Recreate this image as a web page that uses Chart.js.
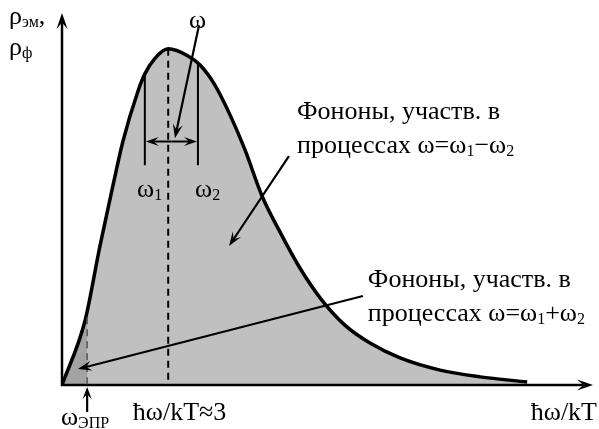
<!DOCTYPE html>
<html>
<head>
<meta charset="utf-8">
<script src="https://cdn.jsdelivr.net/npm/chart.js@4.4.1/dist/chart.umd.min.js"></script>
<style>
  html, body { margin: 0; padding: 0; background: #fff; overflow: hidden; }
  #wrap { width: 599px; height: 429px; }
  #warm { position: absolute; left: -2000px; top: 0; font-family: "Liberation Serif"; font-size: 24px; }
</style>
</head>
<body>
<span id="warm">ρω Фононы ħ≈ 12</span>
<div id="wrap"><canvas id="c" width="599" height="429"></canvas></div>
<script>
// Spectral density curve, x = ħω/kT
const energies = [0, 0.65, 1.07, 1.44, 1.72, 2.15, 2.34, 2.62, 3.0, 3.56, 3.90, 4.32, 4.75, 5.17, 5.65, 6.16, 6.72, 7.34, 7.99, 8.70, 9.55, 10.68, 11.81, 13.14];
const density  = [0, 0.19, 0.41, 0.59, 0.72, 0.87, 0.92, 0.965, 0.994, 0.973, 0.946, 0.887, 0.798, 0.695, 0.559, 0.452, 0.346, 0.251, 0.177, 0.124, 0.080, 0.044, 0.024, 0.009];

// Marked frequencies
const peakEnergy = 3.0;
const eprEnergy = 0.71;
const omega1 = 2.34;
const omega2 = 3.84;

const FONT = '"Liberation Serif", "Times New Roman", serif';
const SIZE = 26, SUB = 16;
const LIGHT = '#c0c0c0';
const DARK = '#a3a3a3';

function arrowHead(ctx, x1, y1, x2, y2, len, half) {
  const a = Math.atan2(y2 - y1, x2 - x1);
  const c = Math.cos(a), s = Math.sin(a);
  ctx.beginPath();
  ctx.moveTo(x2, y2);
  ctx.lineTo(x2 - c * len - s * half, y2 - s * len + c * half);
  ctx.lineTo(x2 - c * len * 0.6, y2 - s * len * 0.6);
  ctx.lineTo(x2 - c * len + s * half, y2 - s * len - c * half);
  ctx.closePath();
  ctx.fill();
}

function arrow(ctx, x1, y1, x2, y2, w, len, half) {
  const a = Math.atan2(y2 - y1, x2 - x1);
  ctx.lineWidth = w;
  ctx.beginPath();
  ctx.moveTo(x1, y1);
  ctx.lineTo(x2 - Math.cos(a) * len * 0.6, y2 - Math.sin(a) * len * 0.6);
  ctx.stroke();
  arrowHead(ctx, x1, y1, x2, y2, len, half);
}

// text with an optional subscript part
function subText(ctx, x, y, main, sub, tail) {
  ctx.font = SIZE + 'px ' + FONT;
  ctx.fillText(main, x, y);
  let cx = x + ctx.measureText(main).width;
  if (sub) {
    ctx.font = SUB + 'px ' + FONT;
    ctx.fillText(sub, cx, y + 3);
    cx += ctx.measureText(sub).width;
  }
  if (tail) {
    ctx.font = SIZE + 'px ' + FONT;
    ctx.fillText(tail, cx, y);
    cx += ctx.measureText(tail).width;
  }
  return cx;
}

const annotations = {
  id: 'annotations',
  afterDraw(chart) {
    const ctx = chart.ctx;
    const xs = chart.scales.x, ys = chart.scales.y;
    const X = v => xs.getPixelForValue(v);
    const Y = v => ys.getPixelForValue(v);
    ctx.save();
    ctx.strokeStyle = '#000';
    ctx.fillStyle = '#000';
    ctx.lineCap = 'butt';

    // axes with arrows
    const ox = X(0), oy = Y(0);
    arrow(ctx, ox, oy + 1, ox, Y(1.1), 2.5, 16, 5.5);
    arrow(ctx, ox - 1, oy, X(15), oy, 2.5, 16, 5.5);

    // dashed verticals
    ctx.setLineDash([7, 5]);
    ctx.lineWidth = 2;
    ctx.beginPath();
    ctx.moveTo(X(peakEnergy), Y(0.994));
    ctx.lineTo(X(peakEnergy), oy);
    ctx.stroke();
    ctx.strokeStyle = '#555';
    ctx.lineWidth = 1.5;
    ctx.beginPath();
    ctx.moveTo(X(eprEnergy), Y(0.2));
    ctx.lineTo(X(eprEnergy), oy);
    ctx.stroke();
    ctx.setLineDash([]);
    ctx.strokeStyle = '#000';

    // ω1, ω2 bounds and the interval between them
    ctx.lineWidth = 2;
    ctx.beginPath();
    ctx.moveTo(X(omega1), Y(0.915)); ctx.lineTo(X(omega1), Y(0.65));
    ctx.moveTo(X(omega2), Y(0.95)); ctx.lineTo(X(omega2), Y(0.65));
    ctx.stroke();
    const my = Y(0.72), mx = (X(omega1) + X(omega2)) / 2;
    arrow(ctx, mx, my, X(omega1) + 1, my, 2, 13, 4.5);
    arrow(ctx, mx, my, X(omega2) - 1, my, 2, 13, 4.5);

    // pointer arrows
    arrow(ctx, X(3.87), Y(1.064), X(3.19), Y(0.73), 2.2, 14, 5);
    arrow(ctx, X(6.41), Y(0.677), X(4.72), Y(0.411), 2.2, 14, 5);
    arrow(ctx, X(8.5), Y(0.263), X(0.45), Y(0.047), 2.2, 14, 5);
    arrow(ctx, X(eprEnergy), oy + 27, X(eprEnergy), oy + 2, 2.2, 12, 4.5);

    // labels
    ctx.textBaseline = 'alphabetic';
    ctx.textAlign = 'left';
    subText(ctx, 9, 24, 'ρ', 'эм', ',');
    subText(ctx, 9, 55, 'ρ', 'ф');

    ctx.font = SIZE + 'px ' + FONT;
    ctx.textAlign = 'center';
    ctx.fillText('ω', X(3.83), Y(1.056));
    ctx.textAlign = 'left';
    subText(ctx, X(2.12), Y(0.556), 'ω', '1');
    subText(ctx, X(3.76), Y(0.556), 'ω', '2');

    ctx.font = SIZE + 'px ' + FONT;
    ctx.fillText('Фононы, участв. в', X(6.64), Y(0.786));
    let cx = subText(ctx, X(6.64), Y(0.686), 'процессах ω=ω', '1', '−ω');
    subText(ctx, cx, Y(0.686), '', '2');

    ctx.font = SIZE + 'px ' + FONT;
    ctx.fillText('Фононы, участв. в', X(8.64), Y(0.29));
    cx = subText(ctx, X(8.64), Y(0.19), 'процессах ω=ω', '1', '+ω');
    subText(ctx, cx, Y(0.19), '', '2');

    subText(ctx, ox - 1, oy + 40, 'ω', 'ЭПР');
    ctx.font = SIZE + 'px ' + FONT;
    ctx.fillText('ħω/kT≈3', X(2.0), oy + 35);
    ctx.textAlign = 'right';
    ctx.fillText('ħω/kT', 597, oy + 35);
    ctx.restore();
  }
};

function build() {
  new Chart(document.getElementById('c'), {
    type: 'line',
    data: {
      datasets: [{
        data: energies.map((e, i) => ({ x: e, y: density[i] })),
        borderColor: '#000',
        borderWidth: 3.5,
        pointRadius: 0,
        cubicInterpolationMode: 'monotone',
        fill: 'origin',
        backgroundColor: (ctx) => {
          const chart = ctx.chart, area = chart.chartArea;
          if (!area || !chart.scales.x) return LIGHT;
          const px = chart.scales.x.getPixelForValue(eprEnergy);
          const f = Math.min(1, Math.max(0, (px - area.left) / (area.right - area.left)));
          const g = chart.ctx.createLinearGradient(area.left, 0, area.right, 0);
          g.addColorStop(0, DARK);
          g.addColorStop(f, DARK);
          g.addColorStop(f, LIGHT);
          g.addColorStop(1, LIGHT);
          return g;
        }
      }]
    },
    options: {
      responsive: false,
      animation: false,
      layout: { padding: { left: 62, right: 6, top: 13, bottom: 44 } },
      plugins: { legend: { display: false }, tooltip: { enabled: false } },
      scales: {
        x: { type: 'linear', min: 0, max: 15, display: false },
        y: { type: 'linear', min: 0, max: 1.1, display: false }
      }
    },
    plugins: [annotations]
  });
}

Promise.all([
  document.fonts.load('26px "Liberation Serif"', 'ρωФ'),
  document.fonts.load('16px "Liberation Serif"', 'эм')
]).catch(() => {}).then(build);
</script>
</body>
</html>
